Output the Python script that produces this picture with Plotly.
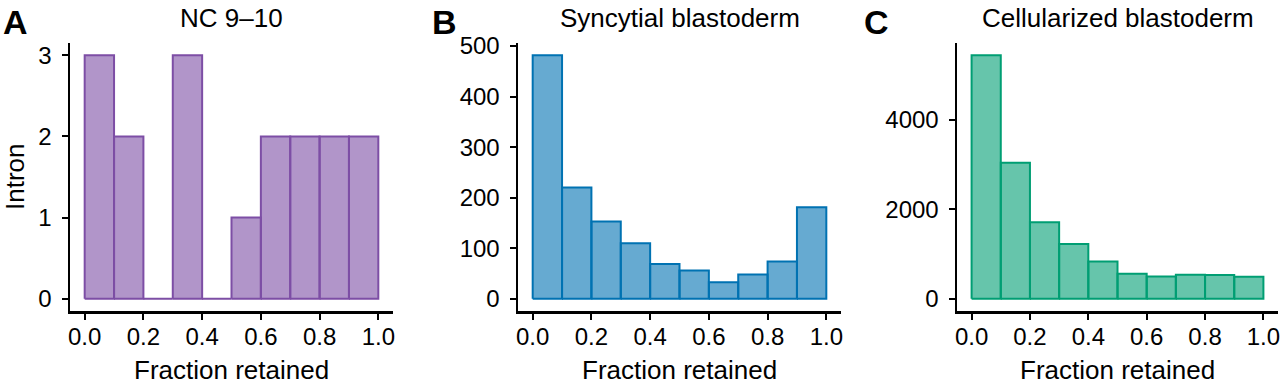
import plotly.graph_objects as go

# ---- data ----
bin_edges = [0.0, 0.1, 0.2, 0.3, 0.4, 0.5, 0.6, 0.7, 0.8, 0.9, 1.0]
counts_nc = [3, 2, 0, 3, 0, 1, 2, 2, 2, 2]
counts_syn = [482, 220, 153, 110, 69, 56, 33, 48, 74, 181]
counts_cel = [5442, 3039, 1709, 1225, 836, 560, 500, 537, 530, 493]

titles = ["NC 9\u201310", "Syncytial blastoderm", "Cellularized blastoderm"]
letters = ["A", "B", "C"]
x_ticks = [0.0, 0.2, 0.4, 0.6, 0.8, 1.0]
y_dticks = [1, 100, 2000]
line_colors = ["#7d4ea5", "#0072b2", "#009e73"]
fill_colors = ["rgba(125,78,165,0.6)", "rgba(0,114,178,0.6)", "rgba(0,158,115,0.6)"]
y_title = "Intron"
x_title = "Fraction retained"

# ---- layout geometry (pixels) ----
W, H = 1280, 384
x_domains_px = [(70, 393), (518, 841), (957, 1278)]
y_domain_px = (43, 311)  # top, bottom
FONT = "Liberation Sans, Arial, Helvetica, sans-serif"
TICK_SIZE = 24
TITLE_SIZE = 26

fig = go.Figure()
all_counts = [counts_nc, counts_syn, counts_cel]

for i, counts in enumerate(all_counts):
    xs, ys = [], []
    for j, c in enumerate(counts):
        l, r = bin_edges[j], bin_edges[j + 1]
        xs += [l, l, r, r, l, None]
        ys += [0, c, c, 0, 0, None]
    ax = "" if i == 0 else str(i + 1)
    fig.add_trace(go.Scatter(
        x=xs, y=ys, mode="lines", fill="toself",
        fillcolor=fill_colors[i],
        line=dict(color=line_colors[i], width=2),
        xaxis="x" + ax, yaxis="y" + ax, showlegend=False, hoverinfo="skip",
    ))

layout = dict(
    width=W, height=H,
    margin=dict(l=0, r=0, t=0, b=0, pad=0, autoexpand=False),
    paper_bgcolor="white", plot_bgcolor="white",
    font=dict(family=FONT, color="black"),
    showlegend=False,
)

ydom = [1 - y_domain_px[1] / H, 1 - y_domain_px[0] / H]
annotations = []
xr = bin_edges[-1] - bin_edges[0]
for i, counts in enumerate(all_counts):
    ax = "" if i == 0 else str(i + 1)
    x0, x1 = x_domains_px[i]
    ymax = max(counts)
    layout["xaxis" + ax] = dict(
        domain=[x0 / W, x1 / W],
        range=[bin_edges[0] - 0.05 * xr, bin_edges[-1] + 0.05 * xr],
        tickvals=x_ticks, ticktext=[f"{v:.1f}" for v in x_ticks],
        showline=True, linecolor="black", linewidth=2.5,
        ticks="outside", ticklen=6, tickwidth=2, tickcolor="black",
        showgrid=False, zeroline=False, automargin=False,
        tickfont=dict(size=TICK_SIZE, family=FONT, color="black"),
        anchor="y" + ax, fixedrange=True,
        ticklabelstandoff=-3, ticklabeloverflow="allow",
    )
    layout["yaxis" + ax] = dict(
        domain=ydom,
        range=[-0.05 * ymax, 1.05 * ymax],
        tick0=0, dtick=y_dticks[i],
        showline=True, linecolor="black", linewidth=2.5,
        ticks="outside", ticklen=6, tickwidth=2, tickcolor="black",
        showgrid=False, zeroline=False, automargin=False,
        tickfont=dict(size=TICK_SIZE, family=FONT, color="black"),
        anchor="x" + ax, fixedrange=True,
        ticklabelstandoff=5, ticklabeloverflow="allow",
    )
    xc = (x0 + x1) / 2 / W
    annotations.append(dict(
        text=titles[i], x=xc, y=1 - 18 / H, xref="paper", yref="paper",
        xanchor="center", yanchor="middle", showarrow=False,
        font=dict(size=TITLE_SIZE, family=FONT, color="black"),
    ))
    annotations.append(dict(
        text=x_title, x=xc, y=1 - 370 / H, xref="paper", yref="paper",
        xanchor="center", yanchor="middle", showarrow=False,
        font=dict(size=TITLE_SIZE, family=FONT, color="black"),
    ))

letter_x_px = [1, 430, 862]
for i, L in enumerate(letters):
    annotations.append(dict(
        text=f"<b>{L}</b>", x=letter_x_px[i] / W, y=1 - 22 / H,
        xref="paper", yref="paper", xanchor="left", yanchor="middle",
        showarrow=False, font=dict(size=34, family=FONT, color="black"),
    ))

annotations.append(dict(
    text=y_title, x=15 / W, y=1 - 177 / H, xref="paper", yref="paper",
    xanchor="center", yanchor="middle", textangle=-90, showarrow=False,
    font=dict(size=TITLE_SIZE, family=FONT, color="black"),
))

layout["annotations"] = annotations
fig.update_layout(**layout)
fig.write_html(
    "out.html",
    config={"displayModeBar": False, "staticPlot": True},
    post_script="document.body.style.margin='0';document.body.style.overflow='hidden';",
)
